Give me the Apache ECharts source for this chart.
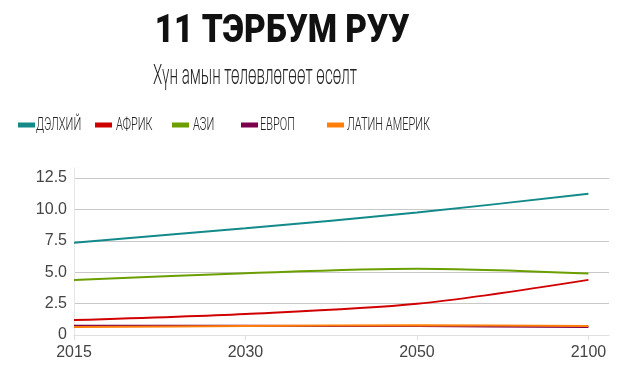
<!DOCTYPE html>
<html><head><meta charset="utf-8">
<script src="https://cdn.jsdelivr.net/npm/echarts@6/dist/echarts.min.js"></script>
<style>html,body{margin:0;padding:0;background:#fff}#c{width:624px;height:381px}</style>
</head><body><div id="c"></div>
<script>
var years = ['2015', '2030', '2050', '2100'];
var seriesNames = ['ДЭЛХИЙ', 'АФРИК', 'АЗИ', 'ЕВРОП', 'ЛАТИН АМЕРИК'];
var world = [7.35, 8.5, 9.75, 11.25];
var africa = [1.19, 1.68, 2.48, 4.39];
var asia = [4.39, 4.92, 5.27, 4.89];
var europe = [0.738, 0.734, 0.707, 0.646];
var latam = [0.634, 0.721, 0.784, 0.721];
var yTicks = ['0', '2.5', '5.0', '7.5', '10.0', '12.5'];
var titleText = '11 ТЭРБУМ РУУ';
var subtitleText = 'Хүн амын төлөвлөгөөт өсөлт';

var colors = ['#128a89', '#d10000', '#6b9f00', '#7d004c', '#ff7f0a'];
var values = [world, africa, asia, europe, latam];
var iconLeft = [18, 95, 172, 241, 327];
var textLeft = [36, 116, 193, 260, 347];

var chart = echarts.init(document.getElementById('c'));
var legends = seriesNames.map(function (n, i) {
  return {
    data: [n], left: iconLeft[i], top: 122.5, icon: 'rect', padding: 0,
    itemWidth: 17, itemHeight: 5, selectedMode: false,
    formatter: function () { return ''; },
    textStyle: { fontSize: 4 }
  };
});
var graphics = [
  { type: 'text', x: 282, y: 32, scaleX: 0.88, silent: true,
    style: { text: titleText, x: 0, y: 0, align: 'center', verticalAlign: 'middle',
      font: '900 38px Roboto, sans-serif', fill: '#111' } },
  { type: 'text', x: 255, y: 77, scaleX: 0.56, silent: true,
    style: { text: subtitleText, x: 0, y: 0, align: 'center', verticalAlign: 'middle',
      font: '300 27px Roboto, sans-serif', fill: '#222' } }
].concat(seriesNames.map(function (n, i) {
  return { type: 'text', x: textLeft[i], y: 125, scaleX: 0.61, silent: true,
    style: { text: n, x: 0, y: 0, align: 'left', verticalAlign: 'middle',
      font: '300 18px Roboto, sans-serif', fill: '#222' } };
}));

chart.setOption({
  animation: false,
  legend: legends,
  graphic: graphics,
  grid: { left: 74, right: 15, top: 168, bottom: 46 },
  xAxis: {
    type: 'value', min: 0, max: 3.12, interval: 1,
    axisLine: { show: true, lineStyle: { color: '#e0e0e0' } },
    axisTick: { show: true, length: 5, lineStyle: { color: '#dddddd' } },
    splitLine: { show: false },
    axisLabel: { showMaxLabel: false, color: '#444', fontFamily: 'Liberation Sans, Arial, sans-serif', fontSize: 16, margin: 10,
      formatter: function (v) { var k = Math.round(v); return Math.abs(v - k) < 1e-6 && years[k] ? years[k] : ''; } }
  },
  yAxis: {
    type: 'value', min: 0, max: 13.3, interval: 2.5,
    axisLine: { show: true, lineStyle: { color: '#e6e6e6' } },
    axisTick: { show: false },
    splitLine: { show: true, showMaxLine: false, lineStyle: { color: '#c8c8c8' } },
    axisLabel: { showMaxLabel: false, color: '#444', fontFamily: 'Liberation Sans, Arial, sans-serif', fontSize: 16, margin: 7,
      formatter: function (v) { var k = Math.round(v / 2.5); return Math.abs(v - k * 2.5) < 1e-6 && yTicks[k] ? yTicks[k] : ''; } }
  },
  series: seriesNames.map(function (n, i) {
    return {
      name: n, type: 'line', smooth: 0.3, symbol: 'none',
      lineStyle: { width: 2, color: colors[i] }, itemStyle: { color: colors[i] },
      data: values[i].map(function (v, j) { return [j, v]; })
    };
  })
});
</script></body></html>
